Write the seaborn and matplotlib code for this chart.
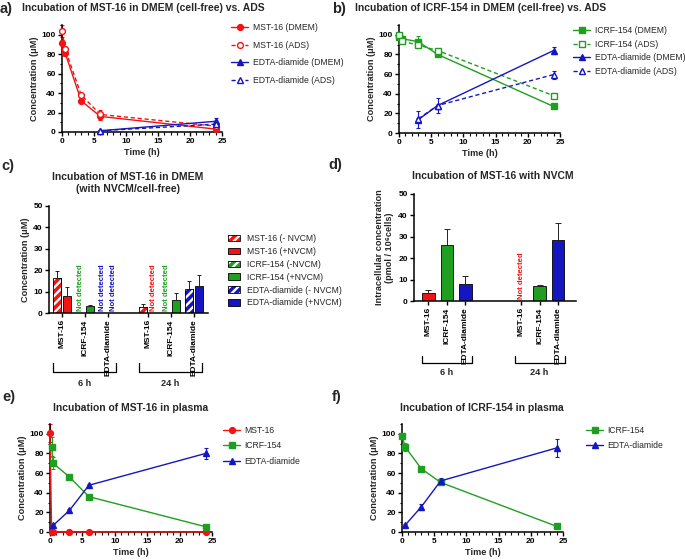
import numpy as np
import pandas as pd
import matplotlib
matplotlib.use("Agg")
import matplotlib.pyplot as plt
from matplotlib.patches import Patch, Rectangle
from matplotlib.lines import Line2D
from matplotlib.legend_handler import HandlerTuple
from matplotlib.ticker import MultipleLocator
import seaborn as sns

# ==========================================
# DATA
# ==========================================
# a) MST-16 in DMEM vs ADS
a_time = [0, 0.5, 3, 6, 24]
a_mst_dmem = [92, 81, 32, 16, 3]
a_mst_dmem_sd = [3, 3, 2, 4, 1]
a_mst_ads = [104, 85, 38, 18, 6]
a_mst_ads_sd = [6, 2, 2, 5, 3]
a_time_edta = [6, 24]
a_edta_dmem = [1.3, 11]
a_edta_dmem_sd = [0.5, 3]
a_edta_ads = [1.3, 8]
a_edta_ads_sd = [0.5, 2]

# b) ICRF-154 in DMEM vs ADS
b_time = [0, 0.5, 3, 6, 24]
b_icrf_dmem = [98, 96, 93, 80, 27]
b_icrf_dmem_sd = [1, 2, 6, 2, 1]
b_icrf_ads = [100, 93.5, 89.5, 84, 38]
b_icrf_ads_sd = [1, 1, 1, 1, 1]
b_time_edta = [3, 6, 24]
b_edta_dmem = [13.6, 28, 84]
b_edta_dmem_sd = [8.5, 8, 4]
b_edta_ads = [14.5, 28, 59.5]
b_edta_ads_sd = [1, 2, 4]

# c) MST-16 in DMEM with NVCM / cell-free  (nan = not detected)
compounds = ["MST-16", "ICRF-154", "EDTA-diamide"]
time_groups = ["6 h", "24 h"]
c_minus = [16.4, np.nan, np.nan, 3.0, np.nan, 11.2]
c_minus_sd = [3.1, np.nan, np.nan, 1.3, np.nan, 3.6]
c_plus = [7.8, 3.1, np.nan, np.nan, 6.2, 12.5]
c_plus_sd = [4.3, 0.5, np.nan, np.nan, 3.3, 5.3]

# d) intracellular concentration with NVCM
d_mean = [3.9, 26.2, 8.1, np.nan, 6.9, 28.3]
d_sd = [1.2, 7.3, 3.6, np.nan, 0.4, 8.0]

# e) MST-16 in plasma
e_time_mst = [0, 0.25, 0.5, 3, 6, 24]
e_mst = [101, 0, 0, 0, 0, 0]
e_mst_sd = [9, 0, 0, 0, 0, 0]
e_time_icrf = [0.25, 0.5, 3, 6, 24]
e_icrf = [87, 70, 56, 36, 5.4]
e_icrf_sd = [10, 6, 1, 1, 1]
e_time_edta = [0.5, 3, 6, 24]
e_edta = [6.8, 22, 47.6, 80]
e_edta_sd = [1, 1, 1, 6]

# f) ICRF-154 in plasma
f_time_icrf = [0, 0.5, 3, 6, 24]
f_icrf = [98, 86.5, 64.5, 50.5, 5.8]
f_icrf_sd = [2, 4, 1, 1, 1]
f_time_edta = [0.5, 3, 6, 24]
f_edta = [7, 25.7, 52, 85.6]
f_edta_sd = [1, 3, 3, 9]

RED = "#f51212"
GREEN = "#1f9f1f"
BLUE = "#1616c0"
colors = {"MST-16": RED, "ICRF-154": GREEN, "EDTA-diamide": BLUE}

# ==========================================
# STYLE
# ==========================================
sns.set_theme(style="ticks")
plt.rcParams['font.family'] = ['Liberation Sans', 'DejaVu Sans']
plt.rcParams['font.weight'] = 'bold'
plt.rcParams['axes.labelweight'] = 'bold'
plt.rcParams['axes.edgecolor'] = 'black'
plt.rcParams['xtick.color'] = 'black'
plt.rcParams['ytick.color'] = 'black'
plt.rcParams['hatch.linewidth'] = 1.7

W, H = 685, 560
fig = plt.figure(figsize=(W / 100, H / 100), dpi=100)

TICK_FS = 6.0
LABEL_FS = 6.6
LEG_FS = 6.2
TITLE_FS = 7.5
LETTER_FS = 10.5


def add_ax(left, top, right, bottom):
    return fig.add_axes([left / W, 1 - bottom / H, (right - left) / W, (bottom - top) / H])


def style_ax(ax):
    sns.despine(ax=ax)
    for s in ["left", "bottom"]:
        ax.spines[s].set_linewidth(1.1)
    ax.tick_params(which="major", length=3, width=1.0, labelsize=TICK_FS, pad=1.5)
    ax.tick_params(which="minor", length=1.8, width=0.8)


def line_panel(ax, series):
    for t, y, sd, label, col, marker, filled, dashed in series:
        sns.lineplot(
            x=t, y=y, ax=ax, color=col, marker=marker,
            markersize=4.2, markerfacecolor=col if filled else "white",
            markeredgecolor=col, markeredgewidth=1.0,
            linestyle=(0, (3, 2)) if dashed else "-", linewidth=1.0,
            legend=False, clip_on=False, zorder=3,
        )
        ax.errorbar(t, y, yerr=sd, fmt="none", ecolor=col, elinewidth=0.8,
                    capsize=1.5, capthick=0.8, clip_on=False, zorder=2)
    ax.set_xlim(0, 25)
    ax.set_ylim(0, 110)
    ax.xaxis.set_major_locator(MultipleLocator(5))
    ax.xaxis.set_minor_locator(MultipleLocator(1))
    ax.yaxis.set_major_locator(MultipleLocator(20))
    ax.yaxis.set_minor_locator(MultipleLocator(10))
    ax.set_xlabel("Time (h)", fontsize=LABEL_FS, labelpad=2)
    ax.set_ylabel("Concentration (μM)", fontsize=LABEL_FS, labelpad=2)
    style_ax(ax)


def line_legend(series, x, y, spacing):
    handles, labels = [], []
    for t, yv, sd, label, col, marker, filled, dashed in series:
        handles.append(Line2D([], [], color=col, marker=marker, markersize=4.2,
                              markerfacecolor=col if filled else "white",
                              markeredgecolor=col, markeredgewidth=1.0,
                              linestyle=(0, (3, 2)) if dashed else "-", linewidth=1.0))
        labels.append(label)
    fig.legend(handles, labels, loc="upper left", bbox_to_anchor=(x / W, 1 - y / H),
               frameon=False, prop={"size": LEG_FS, "weight": "normal"},
               handlelength=2.0, handletextpad=0.5, labelspacing=spacing,
               borderpad=0, borderaxespad=0)


def bracket(ax, x0, x1, text, y_top, y_bot, y_text):
    tr = ax.get_xaxis_transform()
    ax.plot([x0, x0, x1, x1], [y_top, y_bot, y_bot, y_top], transform=tr,
            color="black", lw=0.9, clip_on=False)
    ax.text((x0 + x1) / 2, y_text, text, transform=tr, ha="center", va="center",
            fontsize=LABEL_FS)


def not_detected(ax, x, col):
    ax.text(x, 0.8, "Not detected", rotation=90, ha="center", va="bottom",
            color=col, fontsize=5.6)


# ==========================================
# a)
# ==========================================
ax_a = add_ax(62, 25, 222, 132)
series_a = [
    (a_time, a_mst_dmem, a_mst_dmem_sd, "MST-16 (DMEM)", RED, "o", True, False),
    (a_time, a_mst_ads, a_mst_ads_sd, "MST-16 (ADS)", RED, "o", False, True),
    (a_time_edta, a_edta_dmem, a_edta_dmem_sd, "EDTA-diamide (DMEM)", BLUE, "^", True, False),
    (a_time_edta, a_edta_ads, a_edta_ads_sd, "EDTA-diamide (ADS)", BLUE, "^", False, True),
]
line_panel(ax_a, series_a)
line_legend(series_a, 231, 23, 1.0)

# ==========================================
# b)
# ==========================================
ax_b = add_ax(399, 25, 560, 133)
series_b = [
    (b_time, b_icrf_dmem, b_icrf_dmem_sd, "ICRF-154 (DMEM)", GREEN, "s", True, False),
    (b_time, b_icrf_ads, b_icrf_ads_sd, "ICRF-154 (ADS)", GREEN, "s", False, True),
    (b_time_edta, b_edta_dmem, b_edta_dmem_sd, "EDTA-diamide (DMEM)", BLUE, "^", True, False),
    (b_time_edta, b_edta_ads, b_edta_ads_sd, "EDTA-diamide (ADS)", BLUE, "^", False, True),
]
line_panel(ax_b, series_b)
line_legend(series_b, 573, 26, 0.55)

# ==========================================
# c)
# ==========================================
ax_c = add_ax(49, 206, 208, 313)
c_centers = np.array([0, 1, 2, 3.75, 4.75, 5.75])
off = 0.22
rows = []
for i, ctr in enumerate(c_centers):
    comp = compounds[i % 3]
    if not np.isnan(c_minus[i]):
        rows.append({"pos": ctr - off, "value": c_minus[i], "sd": c_minus_sd[i],
                     "series": comp + " -", "comp": comp, "hatched": True})
    if not np.isnan(c_plus[i]):
        rows.append({"pos": ctr + off, "value": c_plus[i], "sd": c_plus_sd[i],
                     "series": comp + " +", "comp": comp, "hatched": False})
df_c = pd.DataFrame(rows)
pal_c = {r["series"]: colors[r["comp"]] for r in rows}
sns.barplot(data=df_c, x="pos", y="value", hue="series", palette=pal_c,
            native_scale=True, dodge=False, width=0.8, edgecolor="black",
            linewidth=0.6, errorbar=None, legend=False, saturation=1, ax=ax_c)
hatched_pos = df_c.loc[df_c["hatched"], "pos"].values
for p in list(ax_c.patches):
    cx = p.get_x() + p.get_width() / 2
    if np.any(np.isclose(cx, hatched_pos)):
        ax_c.add_patch(Rectangle((p.get_x(), 0), p.get_width(), p.get_height(),
                                 facecolor="none", edgecolor="white", hatch="////",
                                 linewidth=0, zorder=p.get_zorder() + 0.1))
        ax_c.add_patch(Rectangle((p.get_x(), 0), p.get_width(), p.get_height(),
                                 facecolor="none", edgecolor="black", linewidth=0.6,
                                 zorder=p.get_zorder() + 0.2))
ax_c.errorbar(df_c["pos"], df_c["value"], yerr=[np.zeros(len(df_c)), df_c["sd"]],
              fmt="none", ecolor="#222222", elinewidth=0.7, capsize=1.5, capthick=0.7)
for i, ctr in enumerate(c_centers):
    col = colors[compounds[i % 3]]
    if np.isnan(c_minus[i]):
        not_detected(ax_c, ctr - off, col)
    if np.isnan(c_plus[i]):
        not_detected(ax_c, ctr + off, col)
ax_c.set_xlim(-0.57, 6.35)
ax_c.set_ylim(0, 50)
ax_c.yaxis.set_major_locator(MultipleLocator(10))
ax_c.set_xticks(c_centers)
ax_c.set_xticklabels(compounds * 2, rotation=90, fontsize=TICK_FS)
ax_c.set_xlabel("")
ax_c.set_ylabel("Concentration (μM)", fontsize=LABEL_FS, labelpad=2)
style_ax(ax_c)
bracket(ax_c, c_centers[0] - 0.4, c_centers[2] + 0.35, time_groups[0], -0.47, -0.55, -0.655)
bracket(ax_c, c_centers[3] - 0.4, c_centers[5] + 0.35, time_groups[1], -0.47, -0.55, -0.655)

leg_handles = []
leg_labels = ["MST-16 (- NVCM)", "MST-16 (+NVCM)", "ICRF-154 (-NVCM)",
              "ICRF-154 (+NVCM)", "EDTA-diamide (- NVCM)", "EDTA-diamide (+NVCM)"]
for comp in compounds:
    col = colors[comp]
    leg_handles.append((Patch(facecolor=col, edgecolor="white", hatch="////", linewidth=0),
                        Patch(facecolor="none", edgecolor="black", linewidth=0.6)))
    leg_handles.append(Patch(facecolor=col, edgecolor="black", linewidth=0.6))
fig.legend(leg_handles, leg_labels, loc="upper left", bbox_to_anchor=(228 / W, 1 - 234 / H),
           frameon=False, prop={"size": LEG_FS, "weight": "normal"},
           handler_map={tuple: HandlerTuple(ndivide=1, pad=0)},
           handlelength=1.4, handleheight=0.75, handletextpad=0.8, labelspacing=0.45,
           borderpad=0, borderaxespad=0)

# ==========================================
# d)
# ==========================================
ax_d = add_ax(414, 194, 576, 301)
d_pos = np.array([0, 1, 2, 5, 6, 7])
df_d = pd.DataFrame({"pos": d_pos, "value": d_mean, "sd": d_sd,
                     "comp": compounds * 2}).dropna()
sns.barplot(data=df_d, x="pos", y="value", hue="comp", palette=colors,
            native_scale=True, dodge=False, width=0.68, edgecolor="black",
            linewidth=0.6, errorbar=None, legend=False, saturation=1, ax=ax_d)
ax_d.errorbar(df_d["pos"], df_d["value"], yerr=[np.zeros(len(df_d)), df_d["sd"]],
              fmt="none", ecolor="#222222", elinewidth=0.7, capsize=2, capthick=0.7)
for i, v in enumerate(d_mean):
    if np.isnan(v):
        not_detected(ax_d, d_pos[i], colors[compounds[i % 3]])
ax_d.set_xlim(-0.78, 7.97)
ax_d.set_ylim(0, 50)
ax_d.yaxis.set_major_locator(MultipleLocator(10))
ax_d.set_xticks(d_pos)
ax_d.set_xticklabels(compounds * 2, rotation=90, fontsize=TICK_FS)
ax_d.set_xlabel("")
ax_d.set_ylabel("Intracellular concentration\n(pmol / 10⁶cells)", fontsize=LABEL_FS, labelpad=3)
style_ax(ax_d)
bracket(ax_d, d_pos[0] - 0.35, d_pos[2] + 0.35, time_groups[0], -0.51, -0.58, -0.665)
bracket(ax_d, d_pos[3] - 0.35, d_pos[5] + 0.35, time_groups[1], -0.51, -0.58, -0.665)

# ==========================================
# e)
# ==========================================
ax_e = add_ax(50, 424, 212, 532)
series_e = [
    (e_time_mst, e_mst, e_mst_sd, "MST-16", RED, "o", True, False),
    (e_time_icrf, e_icrf, e_icrf_sd, "ICRF-154", GREEN, "s", True, False),
    (e_time_edta, e_edta, e_edta_sd, "EDTA-diamide", BLUE, "^", True, False),
]
line_panel(ax_e, series_e)
line_legend(series_e, 223, 426, 0.75)

# ==========================================
# f)
# ==========================================
ax_f = add_ax(402, 424, 563, 532)
series_f = [
    (f_time_icrf, f_icrf, f_icrf_sd, "ICRF-154", GREEN, "s", True, False),
    (f_time_edta, f_edta, f_edta_sd, "EDTA-diamide", BLUE, "^", True, False),
]
line_panel(ax_f, series_f)
line_legend(series_f, 586, 426, 0.75)

# ==========================================
# TITLES + PANEL LETTERS
# ==========================================
def fig_text(x, y, s, **kw):
    fig.text(x / W, 1 - y / H, s, **kw)


fig_text(0, 9, "a)", fontsize=LETTER_FS, ha="left", va="center")
fig_text(22, 8, "Incubation of MST-16 in DMEM (cell-free) vs. ADS", fontsize=TITLE_FS, ha="left", va="center")
fig_text(332, 9, "b)", fontsize=LETTER_FS, ha="left", va="center")
fig_text(355, 8, "Incubation of ICRF-154 in DMEM (cell-free) vs. ADS", fontsize=TITLE_FS, ha="left", va="center")
fig_text(1, 166, "c)", fontsize=LETTER_FS, ha="left", va="center")
fig_text(128, 183, "Incubation of MST-16 in DMEM\n(with NVCM/cell-free)", fontsize=TITLE_FS,
         ha="center", va="center", linespacing=1.2)
fig_text(328, 165, "d)", fontsize=LETTER_FS, ha="left", va="center")
fig_text(493, 176, "Incubation of MST-16 with NVCM", fontsize=TITLE_FS, ha="center", va="center")
fig_text(2, 397, "e)", fontsize=LETTER_FS, ha="left", va="center")
fig_text(131, 408, "Incubation of MST-16 in plasma", fontsize=TITLE_FS, ha="center", va="center")
fig_text(332, 397, "f)", fontsize=LETTER_FS, ha="left", va="center")
fig_text(482, 408, "Incubation of ICRF-154 in plasma", fontsize=TITLE_FS, ha="center", va="center")

fig.savefig("out.png", dpi=100)
